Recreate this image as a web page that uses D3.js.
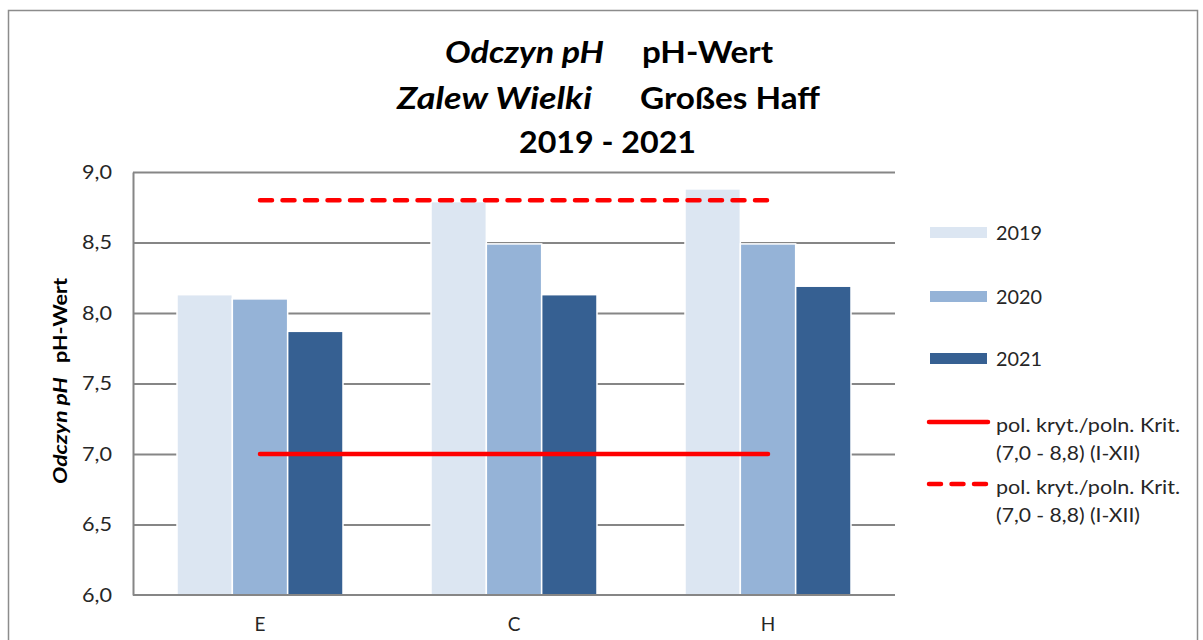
<!DOCTYPE html>
<html>
<head>
<meta charset="utf-8">
<script src="https://cdn.jsdelivr.net/npm/d3@7"></script>
<style>
  html, body { margin: 0; padding: 0; background: #fff; }
  svg { display: block; }
  text { font-family: Lato, "Open Sans", sans-serif; }
</style>
</head>
<body>
<svg id="chart" width="1203" height="640"></svg>
<script>
const categories = ["E", "C", "H"];
const seriesNames = ["2019", "2020", "2021"];
const values2019 = [8.13, 8.79, 8.88];
const values2020 = [8.10, 8.49, 8.49];
const values2021 = [7.87, 8.13, 8.19];
const seriesColors = ["#DCE6F2", "#95B3D7", "#366092"];
const yTicks = [6.0, 6.5, 7.0, 7.5, 8.0, 8.5, 9.0];
const critMin = 7.0;
const critMax = 8.8;
const critLabel = "pol. kryt./poln. Krit.";
const critLabel2 = "(7,0 - 8,8) (I-XII)";

const seriesValues = [values2019, values2020, values2021];
const data = categories.map((c, i) => ({
  cat: c,
  vals: seriesNames.map((s, j) => ({ s, v: seriesValues[j][i], color: seriesColors[j] }))
}));

const svg = d3.select("#chart");
const fmt = v => d3.format(".1f")(v).replace(".", ",");

// outer border
svg.append("rect").attr("x", 8.5).attr("y", 10.5).attr("width", 1189).attr("height", 660)
  .attr("fill", "none").attr("stroke", "#8c8c8c").attr("stroke-width", 1.5);

const plot = { left: 133, right: 895, top: 172, bottom: 595 };

const y = d3.scaleLinear().domain([6, 9]).range([plot.bottom, plot.top]);
const p = 0.3465;
const x0 = d3.scaleBand().domain(categories).range([plot.left, plot.right])
  .paddingInner(p).paddingOuter(p / 2);
const x1 = d3.scaleBand().domain(seriesNames).range([0, x0.bandwidth()]).padding(0);

// gridlines
const grid = svg.append("g").attr("transform", `translate(${plot.left},0)`)
  .call(d3.axisLeft(y).tickValues(yTicks.filter(t => t > 6)).tickSize(-(plot.right - plot.left)).tickFormat(""));
grid.select(".domain").remove();
grid.selectAll(".tick line").attr("stroke", "#868686").attr("stroke-width", 2);

// bars
const groups = svg.append("g").selectAll("g").data(data).join("g")
  .attr("transform", d => `translate(${x0(d.cat)},0)`);
groups.selectAll("rect").data(d => d.vals).join("rect")
  .attr("x", d => x1(d.s))
  .attr("y", d => y(d.v))
  .attr("width", x1.bandwidth())
  .attr("height", d => y(6) - y(d.v))
  .attr("fill", d => d.color)
  .attr("stroke", "#fff").attr("stroke-width", 1.5);

// axes
const yAxis = svg.append("g").attr("transform", `translate(${plot.left},0)`)
  .call(d3.axisLeft(y).tickValues(yTicks).tickSize(0).tickPadding(21).tickFormat(fmt));
yAxis.select(".domain").attr("stroke", "#868686").attr("stroke-width", 2);
yAxis.selectAll("text").attr("font-size", 19).attr("fill", "#262626")
  .attr("textLength", 30).attr("lengthAdjust", "spacingAndGlyphs")
  .style("font-family", "Lato, sans-serif");

const xAxis = svg.append("g").attr("transform", `translate(0,${plot.bottom})`)
  .call(d3.axisBottom(x0).tickSize(0).tickPadding(23));
xAxis.select(".domain").attr("stroke", "#868686").attr("stroke-width", 2)
  .attr("d", `M${plot.left},0H${plot.right}`);
xAxis.selectAll("text").attr("font-size", 19).attr("fill", "#262626");

// criteria lines
const xs = categories[0], xe = categories[categories.length - 1];
const lx1 = x0(xs) + x0.bandwidth() / 2, lx2 = x0(xe) + x0.bandwidth() / 2;
svg.append("line").attr("x1", lx1).attr("x2", lx2).attr("y1", y(critMin)).attr("y2", y(critMin))
  .attr("stroke", "#FF0000").attr("stroke-width", 4.5).attr("stroke-linecap", "round");
svg.append("line").attr("x1", lx1).attr("x2", lx2).attr("y1", y(critMax)).attr("y2", y(critMax))
  .attr("stroke", "#FF0000").attr("stroke-width", 4.5).attr("stroke-linecap", "round")
  .attr("stroke-dasharray", "12,10.5");

// helper for fitted text
function fitText(parent, x, yy, str, len, opts = {}) {
  const t = parent.append("text").attr("x", x).attr("y", yy)
    .attr("textLength", len).attr("lengthAdjust", "spacingAndGlyphs").text(str);
  if (opts.italic) t.attr("font-style", "italic");
  if (opts.dy) t.attr("dy", opts.dy);
  return t;
}

// title
const title = svg.append("g").attr("font-weight", "bold").attr("font-size", 30).attr("fill", "#000");
fitText(title, 445, 63, "Odczyn pH", 159, { italic: true });
fitText(title, 642, 63, "pH-Wert", 131);
fitText(title, 397, 109, "Zalew Wielki", 195, { italic: true });
fitText(title, 640, 109, "Großes Haff", 180);
fitText(title, 519, 153, "2019 - 2021", 177);

// y-axis title
const yt = svg.append("g").attr("transform", `translate(67,0) rotate(-90)`)
  .attr("font-weight", "bold").attr("font-size", 18).attr("fill", "#000");
fitText(yt, -484, 0, "Odczyn pH", 107, { italic: true });
fitText(yt, -363, 0, "pH-Wert", 85);

// legend
const legend = svg.append("g").attr("fill", "#262626");
const legY = [232, 296, 358];
seriesNames.forEach((s, i) => {
  legend.append("rect").attr("x", 930).attr("y", legY[i] - 5).attr("width", 57).attr("height", 11)
    .attr("fill", seriesColors[i]);
  fitText(legend, 996, legY[i] + 1, s, 46, { dy: "0.35em" }).attr("font-size", 19);
});
const lineEntries = [{ y: 422, dash: null }, { y: 484, dash: "12,10.5" }];
lineEntries.forEach(e => {
  const l = legend.append("line").attr("x1", 929).attr("x2", 988).attr("y1", e.y).attr("y2", e.y)
    .attr("stroke", "#FF0000").attr("stroke-width", 4.5).attr("stroke-linecap", "round");
  if (e.dash) l.attr("stroke-dasharray", e.dash);
  fitText(legend, 996, e.y + 3, critLabel, 184, { dy: "0.35em" }).attr("font-size", 19);
  fitText(legend, 996, e.y + 31, critLabel2, 144, { dy: "0.35em" }).attr("font-size", 19);
});
</script>
</body>
</html>
